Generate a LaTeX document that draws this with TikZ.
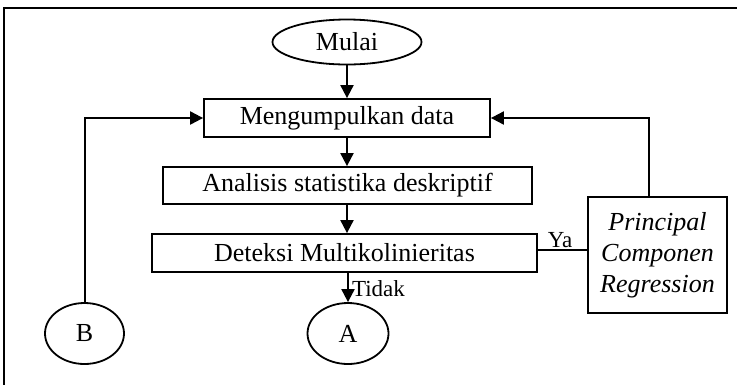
\documentclass[tikz,border=0pt]{standalone}
\usepackage{fontspec}
\setmainfont{Liberation Serif}
\usetikzlibrary{shapes.geometric,arrows.meta}
\begin{document}
\begin{tikzpicture}[x=1pt,y=-1pt,
  every node/.style={font=\fontsize{26}{30}\selectfont, inner sep=0pt},
  procbox/.style={draw, line width=1.8pt, rectangle},
  terminal/.style={draw, line width=1.8pt, ellipse},
  flow/.style={line width=2pt, -{Triangle[length=13pt,width=13pt]}},
  plain/.style={line width=2pt},
  lbl/.style={font=\fontsize{23}{26}\selectfont}]
\useasboundingbox (0,0) rectangle (737,384);
% outer frame (runs past the page edges)
\draw[line width=1.8pt] (4,420) -- (4,8) -- (760,8);

\node[terminal, minimum width=149pt, minimum height=45pt] (mulai) at (347,42) {Mulai};
\node[procbox, minimum width=286pt, minimum height=38pt] (collect) at (347,118) {Mengumpulkan data};
\node[procbox, minimum width=369pt, minimum height=37pt] (desc) at (347.5,185.5) {Analisis statistika deskriptif};
\node[procbox, minimum width=385pt, minimum height=38pt] (detect) at (344.5,253) {Deteksi Multikolinieritas};
\node[terminal, minimum width=81pt, minimum height=61pt] (a) at (348,333.5) {A};
\node[terminal, minimum width=79pt, minimum height=61pt] (b) at (84.5,333.5) {B};
\node[procbox, minimum width=139pt, minimum height=116pt, align=center,
      font=\fontsize{26}{31}\selectfont\itshape] (pcr) at (657.5,255)
      {Principal\\Componen\\Regression};

\coordinate (pcrtop) at ([xshift=-8.5pt]pcr.north);

\draw[flow] (mulai.south) -- (mulai.south |- collect.north);
\draw[flow] (mulai.south |- collect.south) -- (mulai.south |- desc.north);
\draw[flow] (mulai.south |- desc.south) -- (mulai.south |- detect.north);
\draw[flow] (a.north |- detect.south) -- (a.north)
  node[lbl, pos=0.55, anchor=west, xshift=3pt] (tidak) {Tidak};
\draw[flow] (b.north) |- (collect.west);
\draw[flow] (pcrtop) |- (collect.east);
\draw[plain] ([yshift=3pt]detect.east) -- ([yshift=3pt]detect.east -| pcr.west)
  node[lbl, pos=0.45, anchor=south, yshift=1pt] (ya) {Ya};
\end{tikzpicture}
\end{document}
